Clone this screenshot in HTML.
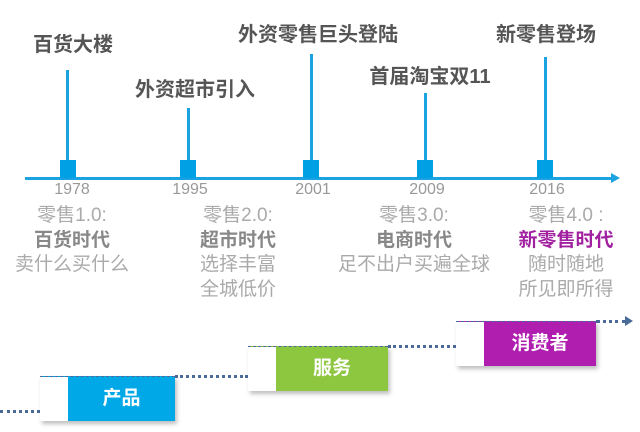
<!DOCTYPE html>
<html><head><meta charset="utf-8"><style>
body{margin:0;width:640px;height:432px;background:#fff;position:relative;overflow:hidden;font-family:"Liberation Sans","Noto Sans CJK SC",sans-serif}
.a{position:absolute;white-space:nowrap;transform:translateX(-50%);text-align:center}
.t{font-weight:bold;font-size:20px;color:#555;line-height:22px}
.v{position:absolute;width:3px;background:#1aa3e0}
.m{position:absolute;width:16px;height:18px;background:#00a0e4;top:160px}
.y{font-size:16px;color:#999;top:181px}
.d{font-size:19px;color:#aaa;line-height:24.5px;top:204px}
.d b{color:#888}
.box{position:absolute;height:44px;box-shadow:2px 3px 4px rgba(0,0,0,.25);border-top:1px dashed #4a6a9a}
.box .w{position:absolute;left:0;top:0;width:28px;height:100%;background:#fff}
.box .c{position:absolute;left:28px;right:0;top:0;height:100%;color:#fff;font-weight:bold;font-size:19px;line-height:44px;text-align:center}
.dot{position:absolute;border-top:3px dotted #4a6a9a;height:0}
</style></head><body>
<div style="position:absolute;left:25px;top:177px;width:588px;height:3px;background:#1aa3e0"></div>
<div style="position:absolute;left:611px;top:173px;width:0;height:0;border-left:9px solid #1aa3e0;border-top:5px solid transparent;border-bottom:5px solid transparent"></div>
<div class="v" style="left:66px;top:70px;height:92px"></div>
<div class="v" style="left:187px;top:108px;height:54px"></div>
<div class="v" style="left:310px;top:54px;height:108px"></div>
<div class="v" style="left:424px;top:93px;height:69px"></div>
<div class="v" style="left:544px;top:57px;height:105px"></div>
<div class="m" style="left:60px"></div><div class="m" style="left:180px"></div><div class="m" style="left:303px"></div><div class="m" style="left:417px"></div><div class="m" style="left:537px"></div>
<div class="a t" style="left:73px;top:34px">百货大楼</div>
<div class="a t" style="left:195px;top:79px">外资超市引入</div>
<div class="a t" style="left:318px;top:24px">外资零售巨头登陆</div>
<div class="a t" style="left:430px;top:66px">首届淘宝双11</div>
<div class="a t" style="left:546px;top:24px">新零售登场</div>
<div class="a y" style="left:72px">1978</div>
<div class="a y" style="left:190px">1995</div>
<div class="a y" style="left:313px">2001</div>
<div class="a y" style="left:427px">2009</div>
<div class="a y" style="left:547px">2016</div>
<div class="a d" style="left:72px">零售1.0:<br><b>百货时代</b><br>卖什么买什么</div>
<div class="a d" style="left:238px">零售2.0:<br><b>超市时代</b><br>选择丰富<br>全城低价</div>
<div class="a d" style="left:414px">零售3.0:<br><b>电商时代</b><br>足不出户买遍全球</div>
<div class="a d" style="left:566px">零售4.0 :<br><b style="color:#a020a0">新零售时代</b><br>随时随地<br>所见即所得</div>
<div class="dot" style="left:0;top:410px;width:40px"></div>
<div class="dot" style="left:175px;top:375px;width:73px"></div>
<div class="dot" style="left:388px;top:345px;width:68px"></div>
<div class="dot" style="left:596px;top:320px;width:30px"></div>
<div style="position:absolute;left:625px;top:316px;width:0;height:0;border-left:8px solid #4a6a9a;border-top:5px solid transparent;border-bottom:5px solid transparent"></div>
<div class="box" style="left:40px;top:376px;width:135px;background:#00a8e8"><div class="w"></div><div class="c">产品</div></div>
<div class="box" style="left:248px;top:346px;width:140px;background:#8dc63f"><div class="w"></div><div class="c">服务</div></div>
<div class="box" style="left:456px;top:321px;width:140px;background:#b01eb0"><div class="w"></div><div class="c">消费者</div></div>
</body></html>
